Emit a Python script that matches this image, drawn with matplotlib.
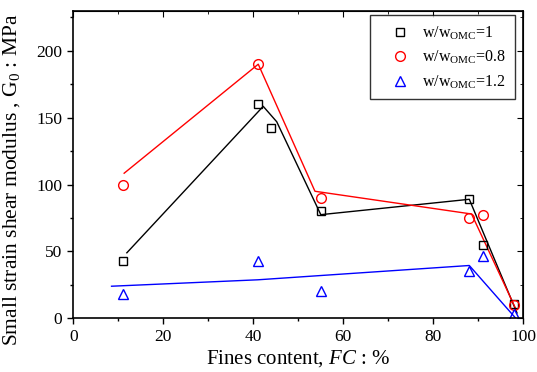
import matplotlib
matplotlib.use("Agg")
import matplotlib.pyplot as plt
from matplotlib.ticker import MultipleLocator

plt.rcParams['font.family'] = ['Liberation Serif', 'DejaVu Serif']
plt.rcParams['mathtext.fontset'] = 'custom'
plt.rcParams['mathtext.rm'] = 'Liberation Serif'
plt.rcParams['mathtext.it'] = 'Liberation Serif:italic'
plt.rcParams['mathtext.bf'] = 'Liberation Serif:bold'

# Data points
fc_w1 = [11, 41, 44, 55, 88, 91, 98]
g0_w1 = [43, 160, 142.5, 80, 89, 55, 10.5]
fc_w08 = [11, 41, 55, 88, 91, 98]
g0_w08 = [100, 190, 90, 75, 77, 10]
fc_w12 = [11, 41, 55, 88, 91, 98]
g0_w12 = [18.5, 42.5, 20.5, 35.5, 46.5, 3]

# Trend lines
line_x_w1 = [11.9, 42.2, 45.2, 55, 88, 98.6]
line_y_w1 = [49, 158.5, 147, 77.5, 89, 4]
line_x_w08 = [11.3, 41.1, 53.7, 88.5, 98.2]
line_y_w08 = [108.5, 190, 95, 78, 8]
line_x_w12 = [8.5, 41, 55, 88, 98.2]
line_y_w12 = [24, 28.8, 32, 39.5, 0.5]

labels = [r'w/w$_{\mathrm{OMC}}$=1', r'w/w$_{\mathrm{OMC}}$=0.8', r'w/w$_{\mathrm{OMC}}$=1.2']

fig = plt.figure(figsize=(5.37, 3.72), dpi=100)
ax = fig.add_axes([0.1365, 0.1443, 0.838, 0.8269])

ax.plot(line_x_w1, line_y_w1, color='black', lw=1.0)
ax.plot(line_x_w08, line_y_w08, color='red', lw=1.0)
ax.plot(line_x_w12, line_y_w12, color='blue', lw=1.0)

ax.plot(fc_w1, g0_w1, ls='none', marker='s', ms=6, mfc='none', mec='black', mew=1.0, label=labels[0])
ax.plot(fc_w08, g0_w08, ls='none', marker='o', ms=7, mfc='none', mec='red', mew=1.0, label=labels[1])
ax.plot(fc_w12, g0_w12, ls='none', marker='^', ms=7.5, mfc='none', mec='blue', mew=1.0, label=labels[2])

ax.set_xlim(0, 100)
ax.set_ylim(0, 230)
ax.xaxis.set_major_locator(MultipleLocator(20))
ax.xaxis.set_minor_locator(MultipleLocator(10))
ax.yaxis.set_major_locator(MultipleLocator(50))
ax.yaxis.set_minor_locator(MultipleLocator(25))

ax.tick_params(which='both', direction='out', top=False, right=False, labelsize=12.5)
ax.tick_params(which='major', length=4.5, width=1.0)
ax.tick_params(which='minor', length=2.5, width=1.0)
# inward ticks on top and right
ax2 = ax.secondary_xaxis('top')
ax2.xaxis.set_major_locator(MultipleLocator(20))
ax2.xaxis.set_minor_locator(MultipleLocator(10))
ax2.tick_params(which='both', direction='in', labeltop=False)
ax2.tick_params(which='major', length=4.5)
ax2.tick_params(which='minor', length=2.5)
ax3 = ax.secondary_yaxis('right')
ax3.yaxis.set_major_locator(MultipleLocator(50))
ax3.yaxis.set_minor_locator(MultipleLocator(25))
ax3.tick_params(which='both', direction='in', labelright=False)
ax3.tick_params(which='major', length=4.5)
ax3.tick_params(which='minor', length=2.5)
for s in ax.spines.values():
    s.set_linewidth(1.2)

ax.set_xlabel(r'Fines content, $\mathit{FC}$ : %', fontsize=15, labelpad=2)
ax.set_ylabel(r'Small strain shear modulus , G$_{0}$ : MPa', fontsize=15.5)
ax.yaxis.set_label_coords(-0.115, 0.45)

leg = ax.legend(loc='upper right', bbox_to_anchor=(0.9815, 0.985), fontsize=11.5,
                frameon=True, fancybox=False, edgecolor='black', handlelength=2.6,
                handletextpad=0.1, borderpad=0.55, labelspacing=0.45, borderaxespad=0.0)
leg.get_frame().set_linewidth(1.0)

fig.savefig('out.png', dpi=100)
